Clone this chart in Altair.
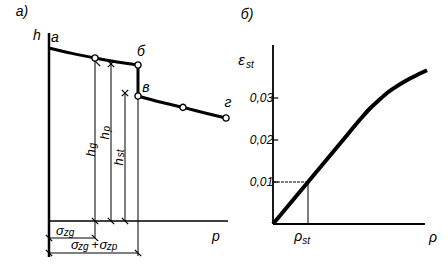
import altair as alt
import pandas as pd

# ---------------- panel а): h versus p (schematic units) ----------------
ab_p = [0.0, 1.15, 2.3, 3.4, 4.45]          # branch а–б
ab_h = [8.65, 8.38, 8.15, 7.95, 7.8]
vg_p = [4.45, 5.55, 6.7, 7.8, 8.85]         # branch в–г
vg_h = [6.25, 5.95, 5.68, 5.4, 5.15]
pts_p = [2.3, 4.45, 4.45, 6.7, 8.85]        # open circles
pts_h = [8.15, 7.8, 6.25, 5.68, 5.15]
hp_p, hp_h = 3.1, 7.95                      # level h_p
hst_p, hst_h = 3.8, 6.4                     # level h_st
p_axis_end, h_axis_top = 8.95, 9.4
dim1_h, dim2_h, axis_bottom = -0.85, -1.6, -1.8

# ---------------- panel б): eps_st versus rho ----------------
rho = [0.0, 1.0, 2.0, 2.5, 2.77, 3.0, 3.26, 3.5, 3.71, 4.0, 4.4]
eps = [0.0, 0.01, 0.02, 0.025, 0.0275, 0.0293, 0.0312, 0.0326, 0.0337, 0.035, 0.0366]
eps_ticks = [0.01, 0.02, 0.03]
eps_tick_labels = ["0,01", "0,02", "0,03"]
rho_st, eps_at_st = 1.0, 0.01
rho_axis_end, eps_axis_top = 4.34, 0.0426

FONT = "Liberation Sans"

# ---------- left scales ----------
LX = dict(scale=alt.Scale(domain=[-2.45, 19.95], nice=False, zero=False), axis=None)
LY = dict(scale=alt.Scale(domain=[-2.45, 11.05], nice=False, zero=False), axis=None)
# ---------- right scales ----------
RX = dict(scale=alt.Scale(domain=[-7.8, 5.0], nice=False, zero=False), axis=None)
RY = dict(scale=alt.Scale(domain=[-0.010952, 0.053333], nice=False, zero=False), axis=None)


def segs(rows, X, Y, width, dash=None):
    df = pd.DataFrame(rows, columns=["x", "y", "x2", "y2"])
    kw = dict(color="black", strokeWidth=width)
    if dash:
        kw["strokeDash"] = dash
    return alt.Chart(df).mark_rule(**kw).encode(
        x=alt.X("x:Q", **X), y=alt.Y("y:Q", **Y), x2="x2:Q", y2="y2:Q")


def texts(rows, X, Y):
    df = pd.DataFrame(rows, columns=["t", "x", "y", "s", "a"])
    return alt.Chart(df).mark_text(font=FONT, fontStyle="italic", color="black",
                                   align="center", baseline="middle").encode(
        x=alt.X("x:Q", **X), y=alt.Y("y:Q", **Y), text="t:N",
        size=alt.Size("s:Q", scale=None, legend=None),
        angle=alt.Angle("a:Q", scale=None, legend=None))


def slash(p, h, d=0.16, both=False):
    r = [(p - d, h + d, p + d, h - d)]
    if both:
        r.append((p - d, h - d, p + d, h + d))
    return r


# ---------------- build left panel ----------------
left_curves = pd.DataFrame({
    "x": ab_p + vg_p, "y": ab_h + vg_h,
    "g": ["ab"] * len(ab_p) + ["vg"] * len(vg_p),
    "i": list(range(len(ab_p))) + list(range(len(vg_p)))})
l_lines = alt.Chart(left_curves).mark_line(color="black", strokeWidth=3,
                                           interpolate="monotone").encode(
    x=alt.X("x:Q", **LX), y=alt.Y("y:Q", **LY), detail="g:N", order="i:Q")

l_thick = segs([(ab_p[-1], ab_h[-1], vg_p[0], vg_h[0])], LX, LY, 3)
l_axis_v = segs([(0, h_axis_top, 0, axis_bottom)], LX, LY, 2.5)
l_axis_h = segs([(0, 0, p_axis_end, 0)], LX, LY, 1.5)
l_thin = segs([
    (pts_p[0], pts_h[0], pts_p[0], dim1_h),
    (hp_p, hp_h, hp_p, 0),
    (hst_p, hst_h, hst_p, 0),
    (pts_p[2], pts_h[2], pts_p[2], dim2_h - 0.15),
    (0, dim1_h, pts_p[0], dim1_h),
    (0, dim2_h, pts_p[2], dim2_h),
], LX, LY, 1)
l_slashes = segs(
    slash(pts_p[0], 0) + slash(hp_p, 0) + slash(hst_p, 0)
    + slash(0, dim1_h) + slash(pts_p[0], dim1_h)
    + slash(0, dim2_h) + slash(pts_p[2], dim2_h)
    + slash(hp_p, hp_h - 0.1, both=True) + slash(hst_p, hst_h, both=True)
    + slash(pts_p[0] + 0.1, pts_h[0] - 0.25),
    LX, LY, 1.2)
l_pts = alt.Chart(pd.DataFrame({"x": pts_p, "y": pts_h})).mark_point(
    shape="circle", filled=True, fill="white", stroke="black", strokeWidth=1.4,
    size=38, opacity=1).encode(x=alt.X("x:Q", **LX), y=alt.Y("y:Q", **LY))

l_text = texts([
    ("а)", -1.35, 10.45, 14, 0),
    ("h", -0.6, 9.25, 14, 0),
    ("а", 0.3, 9.15, 14, 0),
    ("б", 4.6, 8.45, 14, 0),
    ("в", 4.85, 6.65, 14, 0),
    ("г", 8.95, 5.9, 14, 0),
    ("h", 2.1, 3.4, 13, 270), ("g", 2.22, 3.77, 10, 270),
    ("h", 2.8, 4.25, 13, 270), ("p", 2.92, 4.62, 10, 270),
    ("h", 3.5, 2.95, 13, 270), ("st", 3.62, 3.38, 10, 270),
    ("σ", 0.55, -0.52, 13, 0), ("zg", 1.0, -0.62, 10, 0),
    ("σ", 1.3, -1.22, 13, 0), ("zg", 1.72, -1.3, 10, 0),
    ("+", 2.3, -1.22, 12, 0),
    ("σ", 2.72, -1.22, 13, 0), ("zp", 3.15, -1.3, 10, 0),
    ("p", 8.35, -0.8, 14, 0),
], LX, LY)

left = alt.layer(l_thin, l_slashes, l_axis_v, l_axis_h, l_lines, l_thick, l_pts, l_text)

# ---------------- build right panel ----------------
r_curve = alt.Chart(pd.DataFrame({"x": rho, "y": eps})).mark_line(
    color="black", strokeWidth=4, interpolate="monotone").encode(
    x=alt.X("x:Q", **RX), y=alt.Y("y:Q", **RY))
r_axes = segs([(0, eps_axis_top, 0, 0), (0, 0, rho_axis_end, 0)], RX, RY, 1.8)
r_ticks = segs([(0, e, 0.15, e) for e in eps_ticks], RX, RY, 1.2)
r_guide_v = segs([(rho_st, 0, rho_st, eps_at_st)], RX, RY, 1)
r_guide_h = segs([(0, eps_at_st, rho_st, eps_at_st)], RX, RY, 1, dash=[3, 1])
r_text = texts(
    [(lab, -0.33, e, 12, 0) for lab, e in zip(eps_tick_labels, eps_ticks)]
    + [
        ("б)", -0.74, 0.0498, 14, 0),
        ("ε", -0.9, 0.0391, 15, 0), ("st", -0.66, 0.0378, 10, 0),
        ("ρ", 0.72, -0.0031, 14, 0), ("st", 0.95, -0.0041, 10, 0),
        ("ρ", 4.57, -0.0033, 14, 0),
    ], RX, RY)

right = alt.layer(r_guide_v, r_guide_h, r_axes, r_ticks, r_curve, r_text)

chart = alt.layer(left, right).resolve_scale(x="independent", y="independent").properties(
    width=448, height=270, padding=0,
    autosize=alt.AutoSizeParams(type="none"),
    background="white",
).configure_view(stroke=None)

chart.save("out.html", embed_options={"renderer": "svg", "actions": False})
